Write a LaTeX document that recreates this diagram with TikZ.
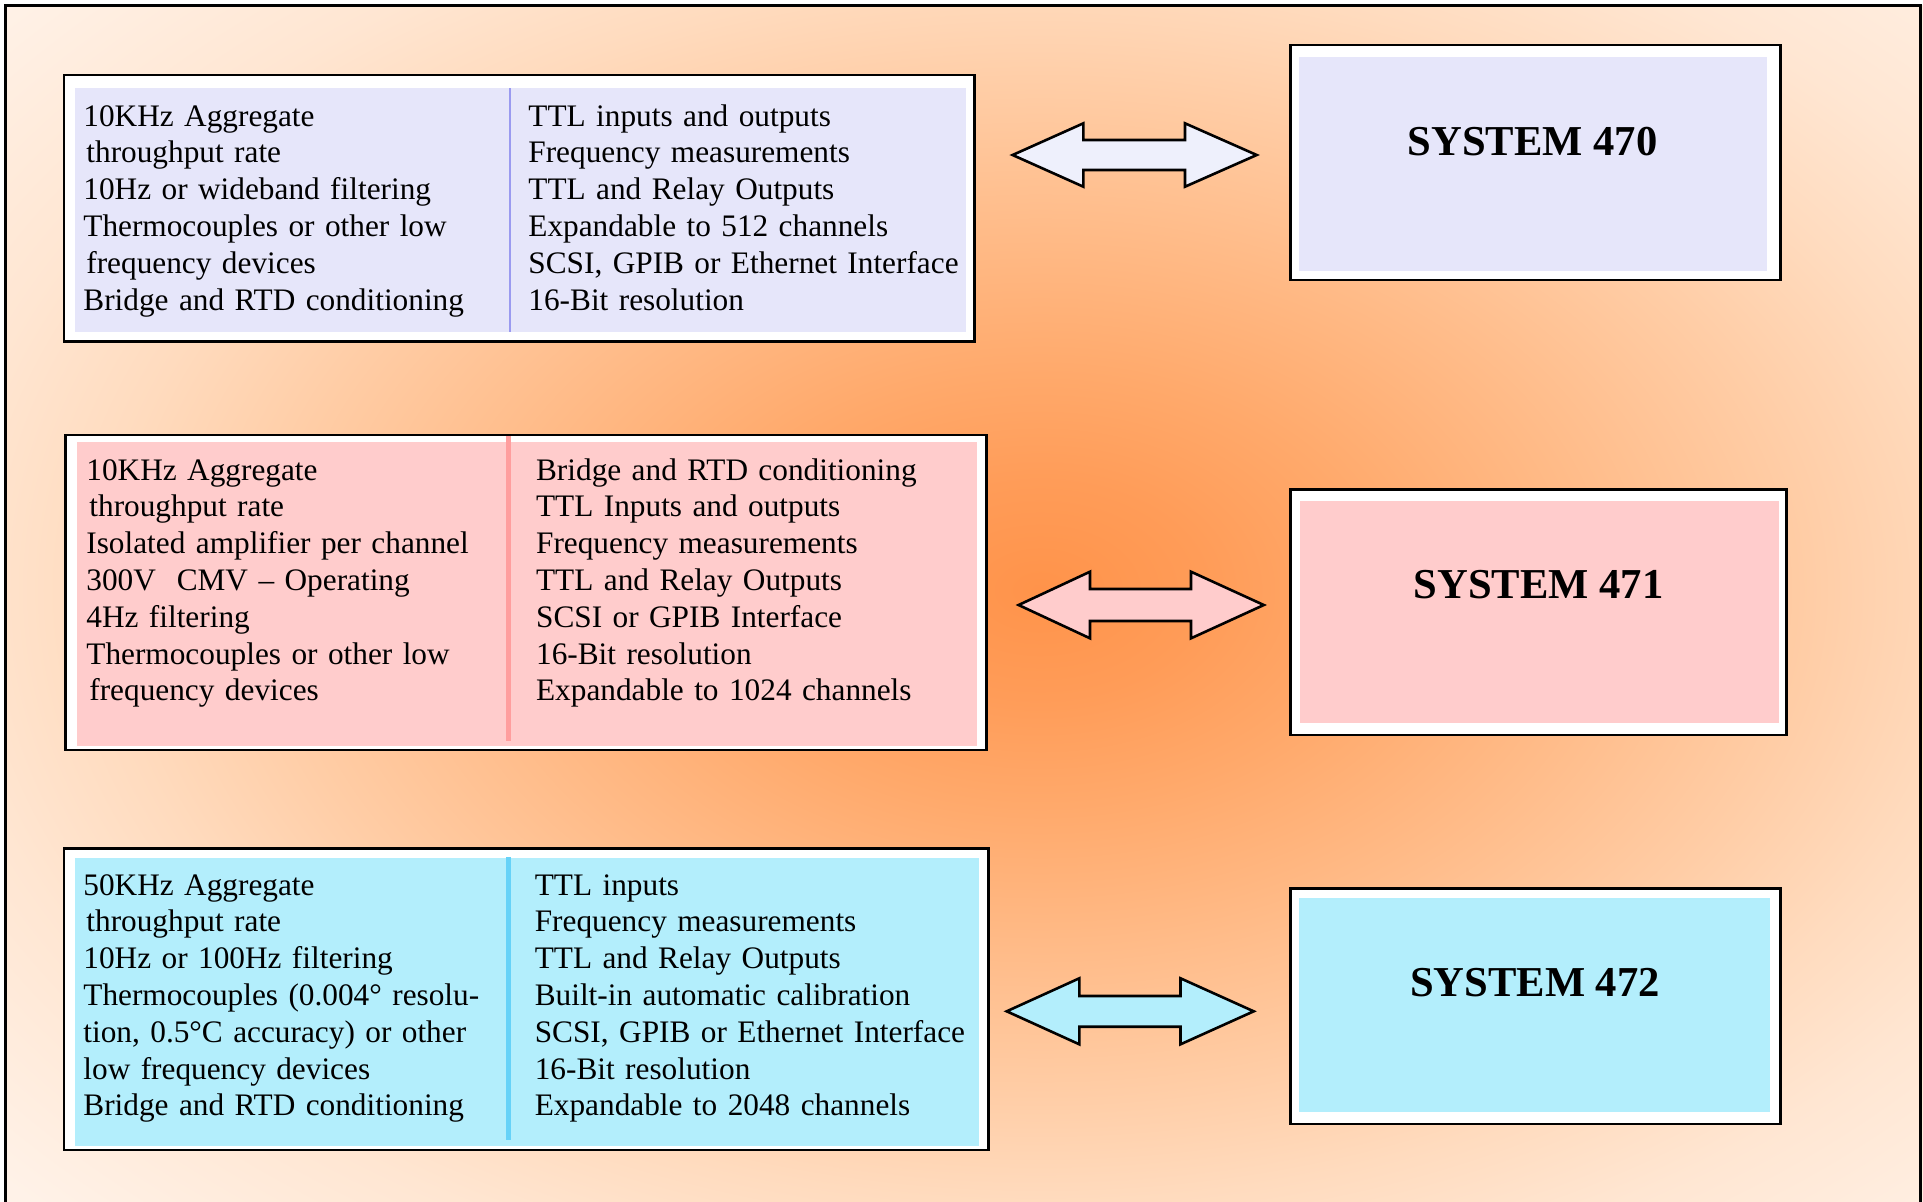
\documentclass[tikz,border=0pt]{standalone}
\usepackage{fontspec}
\setmainfont{Liberation Serif}

% background glow: deep orange in the middle, fading to near white
\definecolor{glowA}{HTML}{FF934A}
\definecolor{glowB}{HTML}{FF9C58}
\definecolor{glowC}{HTML}{FFA96B}
\definecolor{glowD}{HTML}{FFBB88}
\definecolor{glowE}{HTML}{FFCDA6}
\definecolor{glowF}{HTML}{FFDBBE}
\definecolor{glowG}{HTML}{FFE6D2}
\definecolor{glowH}{HTML}{FFF2E8}
\definecolor{glowI}{HTML}{FFF8F3}
\pgfdeclareradialshading{glow}{\pgfpoint{0bp}{0bp}}{%
  color(0bp)=(glowA); color(3.75bp)=(glowB); color(7.5bp)=(glowC);
  color(12.5bp)=(glowD); color(17.5bp)=(glowE); color(21.25bp)=(glowF);
  color(25bp)=(glowG); color(31.25bp)=(glowH); color(37.5bp)=(glowI);
  color(50bp)=(glowI)}

% panel colours
\definecolor{lav}{HTML}{E6E6FA}
\definecolor{lavline}{HTML}{9A9AF0}
\definecolor{rose}{HTML}{FFCCCC}
\definecolor{roseline}{HTML}{FF9E9E}
\definecolor{sky}{HTML}{B3EEFC}
\definecolor{skyline}{HTML}{66D2F8}
\definecolor{arrowlav}{HTML}{EEF0FC}

\begin{document}
\begin{tikzpicture}[x=0.5pt,y=-0.5pt,
  frame/.style={draw=black, line width=1.3pt, fill=white, line join=miter},
  blockarrow/.style={draw=black, line width=1.3pt, line join=miter},
  body/.style={anchor=base west, inner sep=0pt, text width=240pt, align=left,
               font=\fontsize{15.65}{18.4}\selectfont},
  title/.style={anchor=base, inner sep=0pt, font=\fontsize{21.3}{25}\selectfont\bfseries}]

\useasboundingbox (0,0) rectangle (1923,1201);

% backdrop
\begin{scope}
  \clip (5,5) rectangle (1923,1201);
  \shade[shading=glow] (-60,-130) rectangle (2140,1310);
\end{scope}
\draw[line width=1.3pt, line join=miter] (5.5,1215) -- (5.5,5.5) -- (1920.5,5.5) -- (1920.5,1215);

% ---------- System 470 ----------
\path[frame] (63.8,75) rectangle (974.5,341.7);
\fill[lav] (74.6,88) rectangle (966,331.7);
\draw[lavline, line width=1.2pt] (510,88) -- (510,331.7);
\node[body] (f470a) at (83,126) {10KHz Aggregate\\
  \hspace*{1.5pt}throughput rate\\
  10Hz or wideband filtering\\
  Thermocouples or other low\\
  \hspace*{1.5pt}frequency devices\\
  Bridge and RTD conditioning};
\node[body] (f470b) at (528,126) {TTL inputs and outputs\\
  Frequency measurements\\
  TTL and Relay Outputs\\
  Expandable to 512 channels\\
  SCSI, GPIB or Ethernet Interface\\
  16-Bit resolution};

\path[frame] (1290.6,45) rectangle (1780.5,280);
\fill[lav] (1299,57.3) rectangle (1766.8,270.7);
\node[title] (s470) at (1532.5,155) {SYSTEM 470};

\path[blockarrow, fill=arrowlav]
  (1012.6,155) -- (1083.4,123.3) -- (1083.4,140) -- (1185,140) -- (1185,123.3)
  -- (1256.7,155) -- (1185,186.7) -- (1185,170) -- (1083.4,170) -- (1083.4,186.7) -- cycle;

% ---------- System 471 ----------
\path[frame] (65.7,435) rectangle (986.6,750);
\fill[rose] (77,442) rectangle (977,745.7);
\draw[roseline, line width=2.5pt] (508,436) -- (508,741);
\node[body] (f471a) at (86,480) {10KHz Aggregate\\
  \hspace*{1.5pt}throughput rate\\
  Isolated amplifier per channel\\
  300V\ \ CMV – Operating\\
  4Hz filtering\\
  Thermocouples or other low\\
  \hspace*{1.5pt}frequency devices};
\node[body] (f471b) at (535.7,480) {Bridge and RTD conditioning\\
  TTL Inputs and outputs\\
  Frequency measurements\\
  TTL and Relay Outputs\\
  SCSI or GPIB Interface\\
  16-Bit resolution\\
  Expandable to 1024 channels};

\path[frame] (1290.6,489.3) rectangle (1786.4,735);
\fill[rose] (1299.5,500.7) rectangle (1778.7,723.3);
\node[title] (s471) at (1538.5,598.3) {SYSTEM 471};

\path[blockarrow, fill=rose]
  (1018.6,605) -- (1090,571.7) -- (1090,589) -- (1191,589) -- (1191,571.7)
  -- (1263.8,605) -- (1191,638.3) -- (1191,621) -- (1090,621) -- (1090,638.3) -- cycle;

% ---------- System 472 ----------
\path[frame] (63.8,848.3) rectangle (988.5,1150);
\fill[sky] (75,858.3) rectangle (979,1145.7);
\draw[skyline, line width=2.5pt] (508,857) -- (508,1140);
\node[body] (f472a) at (83,895) {50KHz Aggregate\\
  \hspace*{1.5pt}throughput rate\\
  10Hz or 100Hz filtering\\
  Thermocouples (0.004° resolu-\\
  tion, 0.5°C accuracy) or other\\
  low frequency devices\\
  Bridge and RTD conditioning};
\node[body] (f472b) at (534.4,895) {TTL inputs\\
  Frequency measurements\\
  TTL and Relay Outputs\\
  Built-in automatic calibration\\
  SCSI, GPIB or Ethernet Interface\\
  16-Bit resolution\\
  Expandable to 2048 channels};

\path[frame] (1290.6,888.3) rectangle (1780.5,1124);
\fill[sky] (1299,897.7) rectangle (1769.8,1111.7);
\node[title] (s472) at (1535,996.7) {SYSTEM 472};

\path[blockarrow, fill=sky]
  (1006.7,1011.3) -- (1079.3,978.3) -- (1079.3,996) -- (1180.5,996) -- (1180.5,978.3)
  -- (1253.7,1011.3) -- (1180.5,1044.3) -- (1180.5,1026.7) -- (1079.3,1026.7) -- (1079.3,1044.3) -- cycle;

\end{tikzpicture}
\end{document}
